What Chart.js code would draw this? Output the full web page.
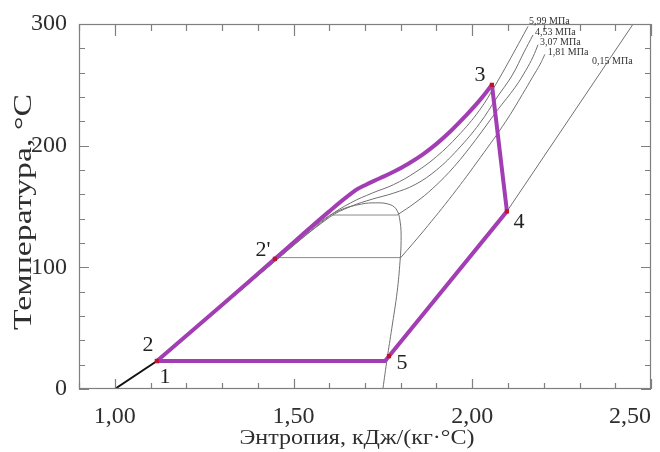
<!DOCTYPE html>
<html><head><meta charset="utf-8">
<script src="https://cdn.jsdelivr.net/npm/chart.js@4/dist/chart.umd.min.js"></script>
<style>html,body{margin:0;padding:0;background:#fff}</style>
</head><body>
<canvas id="c" width="660" height="452"></canvas>
<script>
// ---------- data (entropy s, kJ/(kg·°C); temperature T, °C) ----------
const sTickValues = [1.0, 1.5, 2.0, 2.5];
const sTickLabels = ['1,00', '1,50', '2,00', '2,50'];
const tTickValues = [0, 100, 200, 300];
const tTickLabels = ['0', '100', '200', '300'];

// cycle (purple)
const heatS = [1.118, 1.30, 1.448, 1.60, 1.672, 1.70, 1.74, 1.78, 1.82, 1.86, 1.90, 1.94, 1.98, 2.02, 2.055];
const heatT = [23, 69, 107, 146, 163, 167.5, 173, 178.5, 185, 192.5, 201.5, 212, 224, 237, 250];
const restS = [2.055, 2.097, 1.767, 1.756, 1.118];
const restT = [250, 146, 27, 23, 23];

// black liquid line below point 1
const liqS = [1.0, 1.118];
const liqT = [0, 23];

// state points
const pointNames = ['1', '2', "2'", '3', '4', '5'];
const pointS = [1.118, 1.118, 1.448, 2.055, 2.097, 1.767];
const pointT = [23, 23, 107, 250, 146, 27];

// saturation dome
const domeS = [1.118, 1.30, 1.448, 1.574, 1.63, 1.69, 1.73, 1.765, 1.787, 1.798, 1.801, 1.798, 1.79, 1.775, 1.762, 1.75];
const domeT = [22, 68, 106, 137, 147, 152, 153, 152, 148, 138, 122, 105, 80, 50, 25, 0];

// isobars
const p599S = [1.118, 1.448, 1.60, 1.66, 1.72, 1.78, 1.84, 1.90, 1.96, 2.02, 2.065, 2.10, 2.13, 2.156];
const p599T = [22, 105, 142, 153, 161, 168, 178, 191, 208, 229, 250, 268, 284, 298];
const p453S = [1.118, 1.448, 1.60, 1.66, 1.72, 1.78, 1.84, 1.90, 1.96, 2.02, 2.07, 2.112, 2.145, 2.17];
const p453T = [22, 105, 141, 150, 156, 161, 168, 180, 197, 218, 240, 258, 277, 291];
const p307WetS = [1.61, 1.79];
const p307WetT = [143, 143];
const p307S = [1.79, 1.84, 1.89, 1.95, 2.01, 2.07, 2.12, 2.15, 2.17, 2.184];
const p307T = [143, 153, 165, 183, 205, 229, 248, 262, 273, 283];
const p181WetS = [1.456, 1.80];
const p181WetT = [108, 108];
const p181S = [1.80, 1.864, 1.946, 2.022, 2.094, 2.14, 2.17, 2.19, 2.203];
const p181T = [108, 130, 160, 190, 220, 242, 257, 267, 275];
const p015S = [1.756, 1.767, 2.097, 2.45];
const p015T = [23, 27, 146, 300];

const isobarNames = ['5,99 МПа', '4,53 МПа', '3,07 МПа', '1,81 МПа', '0,15 МПа'];

// ---------- helpers ----------
const pts = (xs, ys) => xs.map((x, i) => ({x: x, y: ys[i]}));
const serif = '"Liberation Serif", "Times New Roman", serif';
const PURPLE = '#a23db3';
const GRAY = '#707070';

function line(xs, ys, color, width, tension) {
  return {type: 'scatter', showLine: true, data: pts(xs, ys), borderColor: color,
          backgroundColor: color, borderWidth: width, pointRadius: 0, tension: tension};
}

// ---------- plugins ----------
const framePlugin = {
  id: 'frame',
  afterDraw(chart) {
    const ctx = chart.ctx, a = chart.chartArea, x = chart.scales.x, y = chart.scales.y;
    ctx.save();
    ctx.strokeStyle = '#7f7f7f';
    ctx.lineWidth = 1.2;
    ctx.strokeRect(a.left + 0.5, a.top + 0.5, a.right - a.left - 1, a.bottom - a.top - 1);
    for (let k = 9; k <= 25; k++) {
      const px = Math.round(x.getPixelForValue(k / 10)) + 0.5;
      const major = k % 5 === 0;
      ctx.beginPath();
      ctx.moveTo(px, a.bottom);
      ctx.lineTo(px, a.bottom - (major ? 10 : 6));
      ctx.moveTo(px, a.top);
      ctx.lineTo(px, a.top + (major ? 12 : 7));
      ctx.stroke();
    }
    for (let v = 0; v <= 300; v += 20) {
      const py = Math.round(y.getPixelForValue(v)) + 0.5;
      const major = v % 100 === 0;
      ctx.beginPath();
      ctx.moveTo(a.left, py);
      ctx.lineTo(a.left + (major ? 10 : 6), py);
      ctx.moveTo(a.right, py);
      ctx.lineTo(a.right - (major ? 10 : 6), py);
      ctx.stroke();
    }
    ctx.restore();
  }
};

function stretchText(ctx, text, cx, cy, targetW, rot) {
  ctx.save();
  ctx.translate(cx, cy);
  ctx.rotate(rot);
  const w = ctx.measureText(text).width;
  ctx.scale(targetW / w, 1);
  ctx.textAlign = 'center';
  ctx.textBaseline = 'middle';
  ctx.fillText(text, 0, 0);
  ctx.restore();
}

const textPlugin = {
  id: 'texts',
  afterDraw(chart) {
    const ctx = chart.ctx, x = chart.scales.x, y = chart.scales.y;
    ctx.save();
    ctx.fillStyle = '#2e2e2e';
    // axis titles
    ctx.font = '22px ' + serif;
    stretchText(ctx, 'Энтропия, кДж/(кг·°С)', 357, 438, 235, 0);
    ctx.font = '26px ' + serif;
    stretchText(ctx, 'Температура, °С', 24, 212, 236, -Math.PI / 2);

    // state point labels
    const offs = [[8, 16], [-9, -16], [-12, -9], [-12, -10], [12, 11], [13, 7]];
    ctx.font = '22px ' + serif;
    ctx.fillStyle = '#222';
    ctx.textAlign = 'center';
    ctx.textBaseline = 'middle';
    pointNames.forEach((n, i) => {
      ctx.fillText(n, x.getPixelForValue(pointS[i]) + offs[i][0], y.getPixelForValue(pointT[i]) + offs[i][1]);
    });

    // isobar labels
    ctx.font = '10px ' + serif;
    ctx.fillStyle = '#333';
    ctx.textAlign = 'left';
    const ends = [[p599S, p599T], [p453S, p453T], [p307S, p307T], [p181S, p181T]];
    const lo = [[1, -5], [2, -3], [2, -2], [3, -2]];
    ends.forEach((e, i) => {
      const n = e[0].length - 1;
      ctx.fillText(isobarNames[i], x.getPixelForValue(e[0][n]) + lo[i][0], y.getPixelForValue(e[1][n]) + lo[i][1]);
    });
    ctx.fillText(isobarNames[4], x.getPixelForValue(2.335), y.getPixelForValue(269));
    ctx.restore();
  }
};

// ---------- chart ----------
const markers = {
  type: 'scatter', data: pts(pointS, pointT), pointStyle: 'rect', pointRadius: 3,
  backgroundColor: '#c0122e', borderColor: '#c0122e', borderWidth: 0, showLine: false
};

new Chart(document.getElementById('c'), {
  type: 'scatter',
  data: {
    datasets: [
      markers,
      line(heatS, heatT, PURPLE, 4, 0.4),
      line(restS, restT, PURPLE, 4, 0),
      line(liqS, liqT, '#111', 2, 0),
      line(domeS, domeT, GRAY, 1, 0.4),
      line(p599S, p599T, GRAY, 1, 0.4),
      line(p453S, p453T, GRAY, 1, 0.4),
      line(p307WetS, p307WetT, '#8a8a8a', 1, 0),
      line(p307S, p307T, GRAY, 1, 0.4),
      line(p181WetS, p181WetT, '#8a8a8a', 1, 0),
      line(p181S, p181T, GRAY, 1, 0.4),
      line(p015S, p015T, GRAY, 1, 0)
    ]
  },
  options: {
    responsive: false,
    devicePixelRatio: 1,
    animation: false,
    layout: {padding: {top: 24, right: 9, left: 0, bottom: 0}},
    plugins: {legend: {display: false}, tooltip: {enabled: false}},
    scales: {
      x: {
        type: 'linear', min: 0.9, max: 2.5,
        afterFit(s) { s.height = 63; },
        grid: {display: false},
        border: {display: false},
        ticks: {
          stepSize: 0.1, autoSkip: false, maxRotation: 0, align: 'inner', padding: 5,
          color: '#2e2e2e', font: {family: serif, size: 24},
          callback(v) {
            const i = sTickValues.findIndex(t => Math.abs(t - v) < 1e-6);
            return i >= 0 ? sTickLabels[i] : '';
          }
        }
      },
      y: {
        type: 'linear', min: 0, max: 300,
        afterFit(s) { s.width = 79; },
        grid: {display: false},
        border: {display: false},
        ticks: {
          stepSize: 20, autoSkip: false, padding: 4,
          color: '#2e2e2e', font: {family: serif, size: 24},
          callback(v) {
            const i = tTickValues.indexOf(Math.round(v));
            return i >= 0 ? tTickLabels[i] : '';
          }
        }
      }
    }
  },
  plugins: [framePlugin, textPlugin]
});
</script>
</body></html>
